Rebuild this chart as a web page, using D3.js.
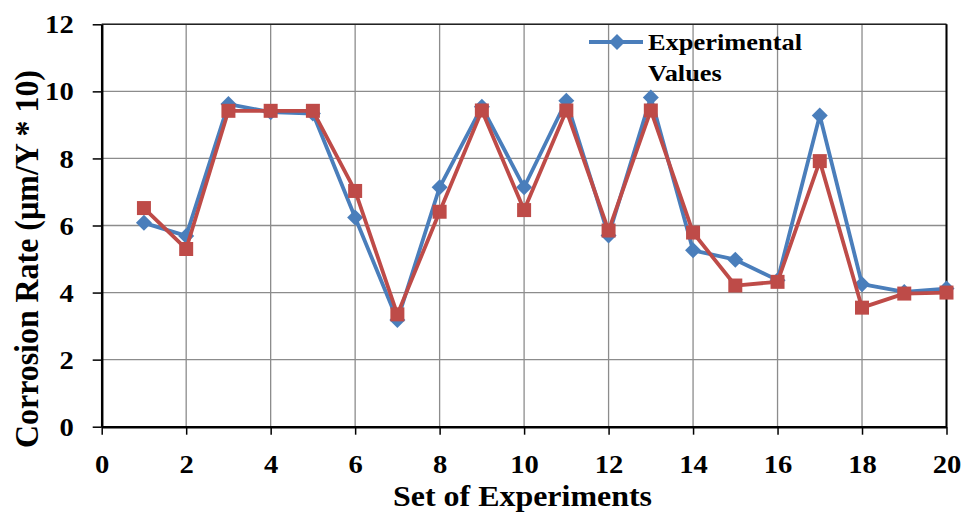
<!DOCTYPE html>
<html>
<head>
<meta charset="utf-8">
<script src="https://cdn.jsdelivr.net/npm/d3@7"></script>
<style>
  html, body { margin: 0; padding: 0; background: #fff; }
  svg { display: block; }
  text { font-family: "Liberation Serif", "Times New Roman", serif; font-weight: bold; fill: #000; }
</style>
</head>
<body>
<svg id="chart" width="965" height="514"></svg>
<script>
// Experiment set numbers
const experiments = [1,2,3,4,5,6,7,8,9,10,11,12,13,14,15,16,17,18,19,20];
// Measured corrosion rates
const experimentalValues = [6.08,5.69,9.62,9.38,9.34,6.24,3.18,7.14,9.54,7.14,9.72,5.70,9.82,5.26,4.98,4.37,9.28,4.25,4.02,4.12];
// Second series
const predictedValues = [6.52,5.30,9.42,9.42,9.42,7.03,3.35,6.41,9.43,6.46,9.43,5.85,9.43,5.79,4.21,4.32,7.92,3.55,3.97,4.00];
const xTicks = [0,2,4,6,8,10,12,14,16,18,20];
const yTicks = [0,2,4,6,8,10,12];

const svg = d3.select("#chart");
const m = { left: 101.7, right: 946.5, top: 24.3, bottom: 426.7 };

const x = d3.scaleLinear().domain([0, 20]).range([m.left, m.right]);
const y = d3.scaleLinear().domain([0, 12]).range([m.bottom, m.top]);

// Widen horizontal text slightly (wide bold face)
function widen(sel, k) {
  sel.each(function () {
    const w = this.getComputedTextLength();
    d3.select(this).attr("textLength", w * k).attr("lengthAdjust", "spacingAndGlyphs");
  });
}

// Grid lines
const grid = svg.append("g");
grid.selectAll("line.h").data(yTicks.slice(1)).join("line")
  .attr("x1", m.left).attr("x2", m.right)
  .attr("y1", d => y(d)).attr("y2", d => y(d))
  .attr("stroke", "#8c8c8c").attr("stroke-width", 1.3);
grid.selectAll("line.v").data(xTicks.slice(1)).join("line")
  .attr("y1", m.top).attr("y2", m.bottom)
  .attr("x1", d => x(d)).attr("x2", d => x(d))
  .attr("stroke", "#8c8c8c").attr("stroke-width", 1.3);

// Frame: top and right edges
svg.append("line").attr("x1", m.left).attr("x2", m.right).attr("y1", m.top).attr("y2", m.top)
  .attr("stroke", "#222").attr("stroke-width", 1.5);
svg.append("line").attr("x1", m.right).attr("x2", m.right).attr("y1", m.top).attr("y2", m.bottom)
  .attr("stroke", "#000").attr("stroke-width", 2);

// Axes
const xAxis = d3.axisBottom(x).tickValues(xTicks).tickSize(8).tickSizeOuter(0);
const yAxis = d3.axisLeft(y).tickValues(yTicks).tickSize(9).tickSizeOuter(0).tickPadding(19);

const gx = svg.append("g").attr("transform", `translate(0,${m.bottom})`).call(xAxis);
const gy = svg.append("g").attr("transform", `translate(${m.left},0)`).call(yAxis);
[gx, gy].forEach(g => {
  g.select(".domain").attr("stroke", "#000").attr("stroke-width", 2.5);
  g.selectAll(".tick line").attr("stroke", "#000").attr("stroke-width", 1.5);
  g.selectAll(".tick text").style("font-size", "26px").style("font-family", "Liberation Serif").style("font-weight", "bold").attr("fill", "#000");
});
gy.selectAll(".tick text").attr("dy", "0.33em");
gx.selectAll(".tick text").attr("y", 473 - m.bottom).attr("dy", 0);
widen(gx.selectAll(".tick text"), 1.1);
widen(gy.selectAll(".tick text"), 1.1);

// Axis titles
svg.append("text")
  .attr("x", 522.5)
  .attr("y", 506)
  .attr("text-anchor", "middle")
  .attr("textLength", 259).attr("lengthAdjust", "spacingAndGlyphs")
  .style("font-size", "29px")
  .text("Set of Experiments");
svg.append("text")
  .attr("transform", `translate(37.5,259) rotate(-90)`)
  .attr("text-anchor", "middle")
  .attr("textLength", 378).attr("lengthAdjust", "spacingAndGlyphs")
  .style("font-size", "33px")
  .text("Corrosion Rate (µm/Y * 10)");

// Series
const diamond = { draw(ctx, size) { const r = Math.sqrt(size / 2); ctx.moveTo(0, -r); ctx.lineTo(r, 0); ctx.lineTo(0, r); ctx.lineTo(-r, 0); ctx.closePath(); } };
const series = [
  { values: experimentalValues, color: "#4A7EBB", symbol: diamond, size: 128 },
  { values: predictedValues, color: "#BE4B48", symbol: d3.symbolSquare, size: 196 }
];
const line = d3.line().x((d, i) => x(experiments[i])).y(d => y(d));

series.forEach(s => {
  const g = svg.append("g");
  g.append("path").datum(s.values)
    .attr("d", line).attr("fill", "none")
    .attr("stroke", s.color).attr("stroke-width", 3.8).attr("stroke-linejoin", "round");
  g.selectAll("path.mk").data(s.values).join("path")
    .attr("class", "mk")
    .attr("d", d3.symbol().type(s.symbol).size(s.size))
    .attr("transform", (d, i) => `translate(${x(experiments[i])},${y(d)})`)
    .attr("fill", s.color);
});

// Legend
const lg = svg.append("g");
lg.append("line").attr("x1", 589).attr("x2", 643).attr("y1", 42).attr("y2", 42)
  .attr("stroke", "#4A7EBB").attr("stroke-width", 3.8);
lg.append("path").attr("d", d3.symbol().type(diamond).size(128))
  .attr("transform", "translate(617,42)").attr("fill", "#4A7EBB");
const lt = lg.selectAll("text.lt").data(["Experimental", "Values"]).join("text")
  .attr("class", "lt")
  .attr("x", 648).attr("y", (d, i) => i ? 81 : 49.5)
  .style("font-size", "24px").text(d => d);
widen(lt, 1.1);
</script>
</body>
</html>
